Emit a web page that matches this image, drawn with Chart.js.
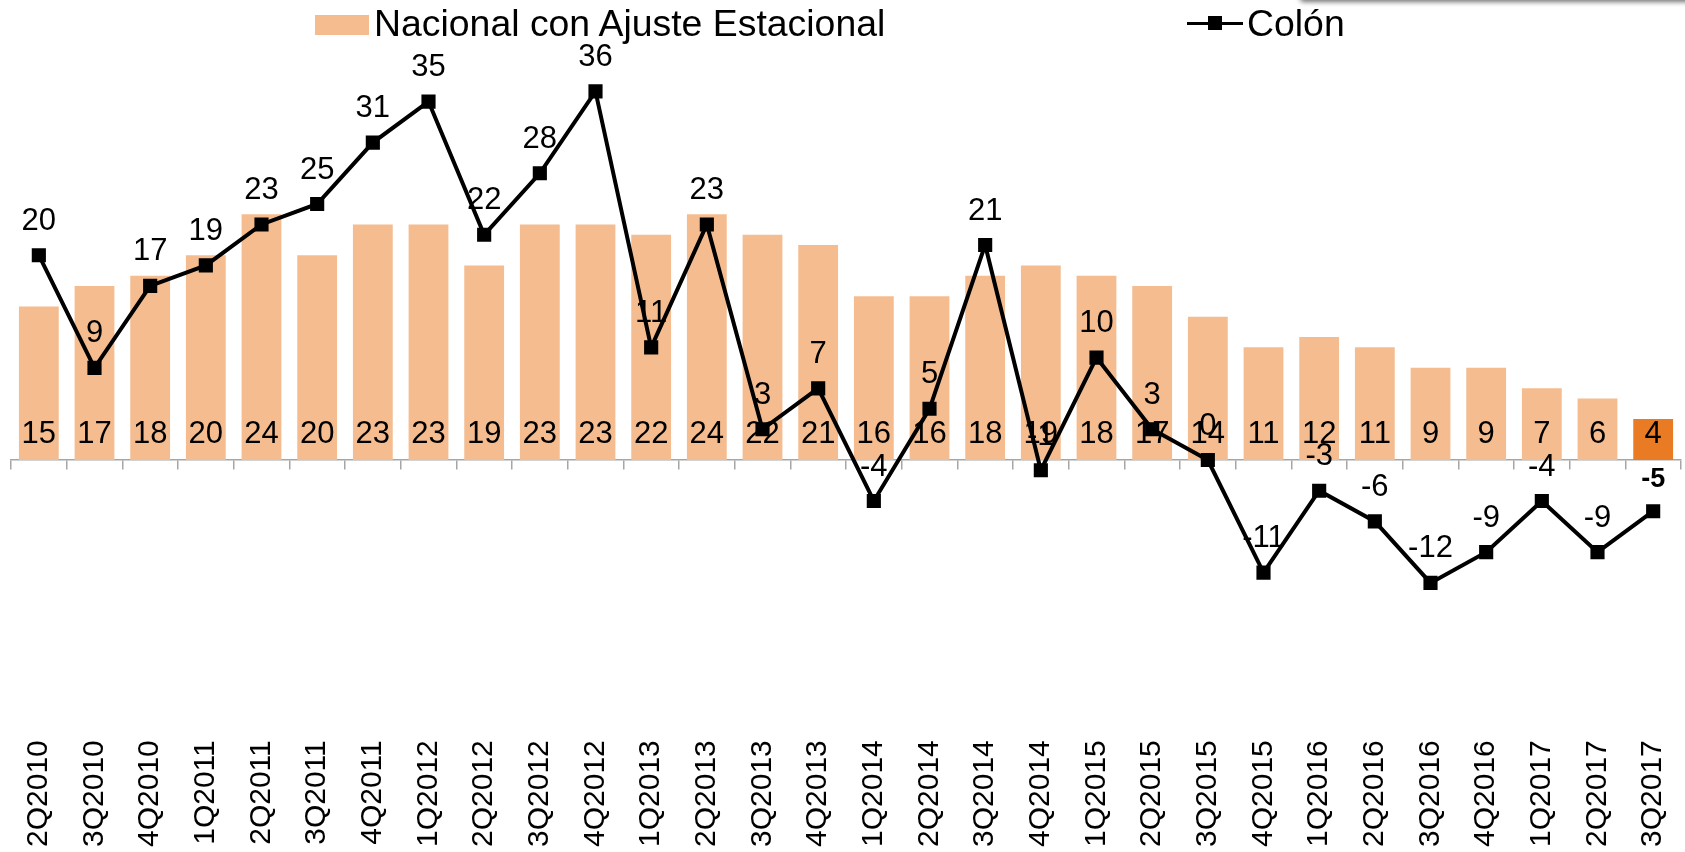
<!DOCTYPE html>
<html><head><meta charset="utf-8">
<script src="https://cdn.jsdelivr.net/npm/chart.js@4"></script>
<style>
html,body{margin:0;padding:0;background:#fff;}
#wrap{position:relative;width:1685px;height:852px;overflow:hidden;background:#fff;}
#c{position:absolute;left:0;top:0;}
.leg{position:absolute;font-family:"Liberation Sans",Arial,sans-serif;font-size:37.4px;line-height:37px;color:#000;white-space:nowrap;}
.shadow{position:absolute;left:1300px;top:-12px;width:420px;height:12px;background:#fff;box-shadow:0 2px 5px rgba(0,0,0,0.55);border-radius:4px;}
</style></head><body>
<div id="wrap">
<canvas id="c" width="1685" height="852"></canvas>
<div class="shadow"></div>
<div id="sw1" style="position:absolute;left:315px;top:15px;width:54px;height:20px;"></div>
<div id="lt1" class="leg" style="left:374px;top:5px"></div>
<div style="position:absolute;left:1187px;top:22px;width:56px;height:3px;background:#000"></div>
<div style="position:absolute;left:1208px;top:16px;width:14px;height:14px;background:#000"></div>
<div id="lt2" class="leg" style="left:1247px;top:5px"></div>
</div>
<script>
const categories = ['2Q2010','3Q2010','4Q2010','1Q2011','2Q2011','3Q2011','4Q2011','1Q2012','2Q2012','3Q2012','4Q2012','1Q2013','2Q2013','3Q2013','4Q2013','1Q2014','2Q2014','3Q2014','4Q2014','1Q2015','2Q2015','3Q2015','4Q2015','1Q2016','2Q2016','3Q2016','4Q2016','1Q2017','2Q2017','3Q2017'];
const nacional = [15,17,18,20,24,20,23,23,19,23,23,22,24,22,21,16,16,18,19,18,17,14,11,12,11,9,9,7,6,4];
const colon = [20,9,17,19,23,25,31,35,22,28,36,11,23,3,7,-4,5,21,-1,10,3,0,-11,-3,-6,-12,-9,-4,-9,-5];
const seriesNames = ['Nacional con Ajuste Estacional','Colón'];

const barColor = '#F4BC8F';
const lastBarColor = '#E87B23';
const FONT = '"Liberation Sans", Arial, sans-serif';

document.getElementById('sw1').style.background = barColor;
document.getElementById('lt1').textContent = seriesNames[0];
document.getElementById('lt2').textContent = seriesNames[1];

const labelPlugin = {
  id: 'valueLabels',
  afterDatasetDraw(chart, args) {
    const ctx = chart.ctx;
    const ds = chart.data.datasets[args.index];
    const meta = args.meta;
    const y0 = chart.scales.y.getPixelForValue(0);
    ctx.save();
    ctx.fillStyle = '#000';
    ctx.textAlign = 'center';
    ctx.textBaseline = 'middle';
    meta.data.forEach((el, i) => {
      const v = ds.data[i];
      if (ds.type === 'bar') {
        ctx.font = '31px ' + FONT;
        ctx.fillText(String(v), el.x, y0 - 26);
      } else {
        const last = i === ds.data.length - 1;
        ctx.font = (last ? 'bold 27px ' : '31px ') + FONT;
        ctx.fillText(String(v), el.x, el.y - (last ? 32 : 34));
      }
    });
    ctx.restore();
  }
};

function makeConfig(ymin, ymax) {
  return {
    data: {
      labels: categories,
      datasets: [
        {type:'line', label: seriesNames[1], data: colon, order: 0,
         borderColor:'#000', borderWidth:4, backgroundColor:'#000',
         pointStyle:'rect', pointRadius:10, pointBackgroundColor:'#000', pointBorderColor:'#000', pointBorderWidth:0,
         tension:0, xAxisID:'x', yAxisID:'y'},
        {type:'bar', label: seriesNames[0], data: nacional, order: 1,
         backgroundColor: nacional.map((v,i) => i === nacional.length-1 ? lastBarColor : barColor),
         barPercentage:0.715, categoryPercentage:1, xAxisID:'x', yAxisID:'y'}
      ]
    },
    options: {
      responsive:false, animation:false,
      layout:{padding:{left:11, right:4, top:55, bottom:3}},
      plugins:{legend:{display:false}, tooltip:{enabled:false}},
      scales: {
        x: {type:'category', offset:true,
            grid:{display:false, drawTicks:false}, border:{display:false},
            ticks:{minRotation:90, maxRotation:90, autoSkip:false, padding:2, color:'#000', font:{family:FONT, size:30, lineHeight:0.8}}},
        x2: {type:'category', axis:'x', position:{y:0}, offset:true,
            grid:{offset:true, drawOnChartArea:false, drawTicks:true, tickLength:9, color:'#a6a6a6', lineWidth:1.5},
            border:{display:true, color:'#a6a6a6', width:1.5},
            ticks:{display:false}},
        y: {display:false, min:ymin, max:ymax}
      }
    },
    plugins:[labelPlugin]
  };
}

const canvas = document.getElementById('c');
let chart = new Chart(canvas, makeConfig(-27.3, 39.5));
let ca = chart.chartArea;
// Plot frame of the reference: right edge at x=1681, zero line at y=460, 10.24 px per unit
const deficit = Math.round(1681 - ca.right);
let ymax = (460 - ca.top) / 10.24, ymin = -(ca.bottom - 460) / 10.24;
if (deficit > 0) {
  chart.destroy();
  canvas.width = 1685 + deficit;
  canvas.height = 852;
  chart = new Chart(canvas, makeConfig(ymin, ymax));
}
ca = chart.chartArea;
chart.options.scales.y.max = (460 - ca.top) / 10.24;
chart.options.scales.y.min = -(ca.bottom - 460) / 10.24;
chart.update();
</script>
</body></html>
